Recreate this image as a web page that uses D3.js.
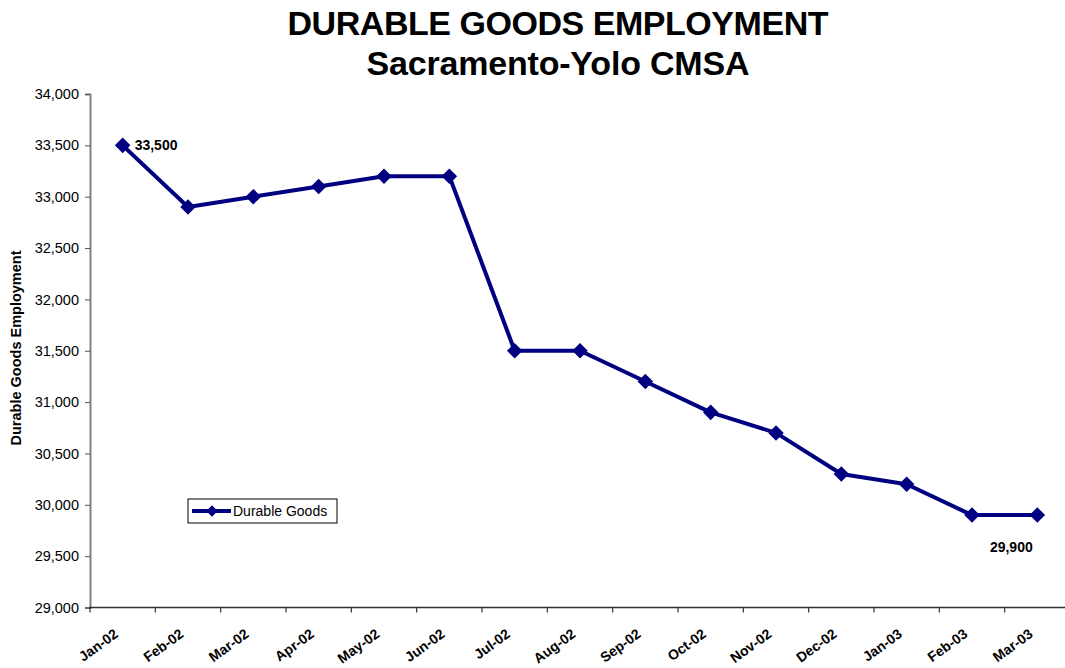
<!DOCTYPE html>
<html>
<head>
<meta charset="utf-8">
<script src="https://cdn.jsdelivr.net/npm/d3@7"></script>
<style>
  html, body { margin: 0; padding: 0; background: #fff; }
  svg { display: block; font-family: "Liberation Sans", Arial, sans-serif; }
</style>
</head>
<body>
<svg id="chart" width="1065" height="668"></svg>
<script>
// Monthly durable goods employment, Sacramento-Yolo CMSA
const months = ["Jan-02", "Feb-02", "Mar-02", "Apr-02", "May-02", "Jun-02", "Jul-02",
                "Aug-02", "Sep-02", "Oct-02", "Nov-02", "Dec-02", "Jan-03", "Feb-03", "Mar-03"];
const employment = [33500, 32900, 33000, 33100, 33200, 33200, 31500,
                    31500, 31200, 30900, 30700, 30300, 30200, 29900, 29900];
const yTicks = [29000, 29500, 30000, 30500, 31000, 31500, 32000, 32500, 33000, 33500, 34000];
const titleLines = ["DURABLE GOODS EMPLOYMENT", "Sacramento-Yolo CMSA"];
const yTitle = "Durable Goods Employment";
const seriesName = "Durable Goods";

const navy = "#000080";
const svg = d3.select("#chart");

const plot = { left: 90, right: 1070, top: 94, bottom: 607.5 };

const x = d3.scaleBand().domain(months).range([plot.left, plot.right]);
const y = d3.scaleLinear().domain([29000, 34000]).range([plot.bottom, plot.top]);
const fmt = d3.format(",");

// Title
svg.append("g").selectAll("text").data(titleLines).join("text")
  .attr("x", 558).attr("y", (d, i) => 35 + i * 40)
  .attr("text-anchor", "middle")
  .attr("font-size", 34).attr("font-weight", "bold").attr("fill", "#000")
  .attr("textLength", (d, i) => i === 0 ? 541 : 383)
  .text(d => d);

// Y axis
const yAxis = svg.append("g")
  .attr("transform", `translate(${plot.left},0)`)
  .call(d3.axisLeft(y).tickValues(yTicks).tickFormat(fmt).tickSize(5).tickPadding(6));
yAxis.select(".domain").attr("stroke", "#808080").attr("stroke-width", 2);
yAxis.selectAll(".tick line").attr("stroke", "#555");
yAxis.selectAll(".tick text").attr("font-size", 14.5).attr("fill", "#000")
  .attr("font-family", "Liberation Sans, Arial, sans-serif");

// X axis with ticks between categories
const boundaries = d3.range(months.length + 1).map(i => plot.left + i * x.step());
const xAxis = svg.append("g");
xAxis.append("line")
  .attr("x1", plot.left - 1).attr("x2", plot.right)
  .attr("y1", plot.bottom).attr("y2", plot.bottom)
  .attr("stroke", "#333").attr("stroke-width", 1.5);
xAxis.selectAll("line.tk").data(boundaries).join("line").attr("class", "tk")
  .attr("x1", d => d).attr("x2", d => d)
  .attr("y1", plot.bottom).attr("y2", plot.bottom + 5)
  .attr("stroke", "#333").attr("stroke-width", 1.2);
xAxis.selectAll("text").data(months).join("text")
  .attr("transform", d => `translate(${x(d) + x.bandwidth() / 2 - 3.5},${plot.bottom + 28.5}) rotate(-36)`)
  .attr("text-anchor", "end")
  .attr("font-size", 14).attr("font-weight", "bold").attr("fill", "#000")
  .text(d => d);

// Y axis title
svg.append("text")
  .attr("transform", `translate(21,348) rotate(-90)`)
  .attr("text-anchor", "middle")
  .attr("font-size", 14.5).attr("font-weight", "bold").attr("fill", "#000")
  .text(yTitle);

// Series line and markers
const cx = (d, i) => x(months[i]) + x.bandwidth() / 2;
const line = d3.line().x(cx).y(d => y(d));
svg.append("path").datum(employment)
  .attr("d", line)
  .attr("fill", "none").attr("stroke", navy).attr("stroke-width", 4)
  .attr("stroke-linejoin", "round");

const diamond = d3.symbol().type(d3.symbolSquare).size(121);
svg.append("g").selectAll("path").data(employment).join("path")
  .attr("d", diamond)
  .attr("transform", (d, i) => `translate(${cx(d, i)},${y(d)}) rotate(45)`)
  .attr("fill", navy);

// Value labels on first and last points
const last = employment.length - 1;
svg.append("text")
  .attr("x", cx(employment[0], 0) + 12).attr("y", y(employment[0]) + 5)
  .attr("font-size", 14).attr("font-weight", "bold").attr("fill", "#000")
  .text(fmt(employment[0]));
svg.append("text")
  .attr("x", cx(employment[last], last) - 26).attr("y", y(employment[last]) + 37)
  .attr("text-anchor", "middle")
  .attr("font-size", 14).attr("font-weight", "bold").attr("fill", "#000")
  .text(fmt(employment[last]));

// Legend
const lg = svg.append("g").attr("transform", "translate(188,499)");
lg.append("rect").attr("width", 149).attr("height", 24)
  .attr("fill", "#fff").attr("stroke", "#000").attr("stroke-width", 1);
lg.append("line").attr("x1", 4).attr("x2", 43).attr("y1", 12).attr("y2", 12)
  .attr("stroke", navy).attr("stroke-width", 4);
lg.append("path").attr("d", d3.symbol().type(d3.symbolSquare).size(64))
  .attr("transform", "translate(24,12) rotate(45)").attr("fill", navy);
lg.append("text").attr("x", 45).attr("y", 17)
  .attr("font-size", 14).attr("fill", "#000").text(seriesName);
</script>
</body>
</html>
